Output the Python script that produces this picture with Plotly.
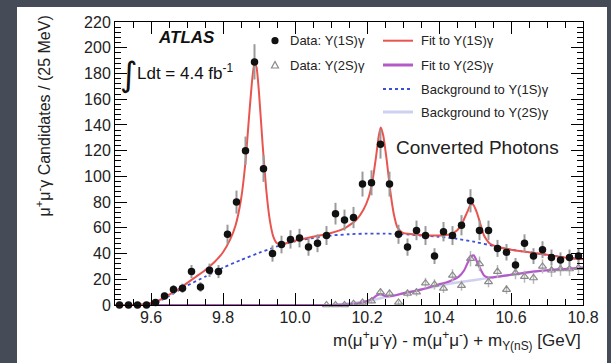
import base64
import numpy as np
import plotly.graph_objects as go

# ---------------- data ----------------
bin_centers_1s = [9.5125, 9.5375, 9.5625, 9.5875, 9.6125, 9.6375, 9.6625, 9.6875, 9.7125, 9.7375,
                  9.7625, 9.7875, 9.8125, 9.8375, 9.8625, 9.8875, 9.9125, 9.9375, 9.9625, 9.9875,
                  10.0125, 10.0375, 10.0625, 10.0875, 10.1125, 10.1375, 10.1625, 10.1875, 10.2125, 10.2375,
                  10.2625, 10.2875, 10.3125, 10.3375, 10.3625, 10.3875, 10.4125, 10.4375, 10.4625, 10.4875,
                  10.5125, 10.5375, 10.5625, 10.5875, 10.6125, 10.6375, 10.6625, 10.6875, 10.7125, 10.7375,
                  10.7625, 10.7875]
counts_1s = [0, 0, 0, 0, 2, 7, 12, 13, 26, 14,
             27, 26, 55, 80, 120, 189, 106, 40, 47, 51,
             52, 45, 48, 54, 71, 66, 68, 94, 95, 125,
             94, 55, 45, 58, 54, 38, 57, 54, 62, 81,
             58, 58, 44, 41, 31, 48, 38, 43, 37, 35,
             37, 38]

bin_centers_2s = [10.0875, 10.1125, 10.1375, 10.1625, 10.1875, 10.2125, 10.2375, 10.2625, 10.2875, 10.3125,
                  10.3375, 10.3625, 10.3875, 10.4125, 10.4375, 10.4625, 10.4875, 10.5125, 10.5375, 10.5625,
                  10.5875, 10.6125, 10.6375, 10.6625, 10.6875, 10.7125, 10.7375, 10.7625, 10.7875]
counts_2s = [0, 0, 0, 1, 2, 3, 10, 9, 2, 9,
             10, 17, 16, 13, 23, 15, 36, 32, 18, 26,
             12, 25, 22, 21, 30, 27, 28, 28, 29]

fit1s_x = [9.50, 9.55, 9.58, 9.60, 9.625, 9.65, 9.675, 9.70, 9.725, 9.75, 9.775, 9.80, 9.82, 9.835,
           9.85, 9.862, 9.872, 9.88, 9.887, 9.893, 9.90, 9.91, 9.92, 9.93, 9.94, 9.95, 9.965, 9.98,
           10.0, 10.05, 10.1, 10.14, 10.17, 10.19, 10.205, 10.215, 10.225, 10.233, 10.238, 10.245,
           10.255, 10.265, 10.275, 10.285, 10.30, 10.35, 10.40, 10.43, 10.45, 10.465, 10.478, 10.488,
           10.495, 10.505, 10.515, 10.525, 10.54, 10.56, 10.60, 10.65, 10.70, 10.75, 10.80]
fit1s_y = [0, 0, 0.5, 1.5, 4, 8, 12, 17, 22, 27, 33, 41, 51, 62,
           82, 110, 145, 172, 188, 185, 165, 125, 90, 66, 53, 48, 47, 48.5,
           50, 53, 56, 60, 66, 74, 84, 96, 115, 132, 138, 132,
           112, 88, 70, 60, 56, 54.5, 54, 55, 58, 64, 72, 78,
           78, 72, 63, 54, 48, 45.5, 43, 41, 39, 37, 35.5]

bkg1s_x = [9.60, 9.625, 9.65, 9.70, 9.75, 9.80, 9.85, 9.90, 9.95, 10.0, 10.05, 10.1, 10.15, 10.2,
           10.25, 10.3, 10.35, 10.4, 10.45, 10.5, 10.55, 10.6, 10.65, 10.7, 10.75, 10.8]
bkg1s_y = [0, 3, 7, 15, 22, 29, 35, 40.5, 45.5, 49.5, 52, 54, 55, 55.5,
           55.5, 55, 54, 53, 51.5, 49, 46, 43, 41, 39, 37, 35.5]

fit2s_x = [9.50, 10.1, 10.15, 10.18, 10.2, 10.215, 10.228, 10.238, 10.25, 10.27, 10.30, 10.35, 10.40,
           10.43, 10.455, 10.47, 10.48, 10.49, 10.497, 10.505, 10.515, 10.525, 10.535, 10.55, 10.60,
           10.65, 10.70, 10.75, 10.80]
fit2s_y = [0, 0, 0.5, 1.5, 3, 5, 7.5, 8.5, 7, 7, 9, 12, 16,
           18.5, 22, 27, 33, 38, 38.5, 34, 28, 23, 21.5, 21.5, 23.5,
           25.5, 27, 28, 29]

bkg2s_x = [10.1, 10.2, 10.25, 10.3, 10.35, 10.4, 10.45, 10.5, 10.55, 10.6, 10.65, 10.7, 10.75, 10.8]
bkg2s_y = [0, 3, 6, 9, 12, 15, 17.5, 19.5, 21.5, 23.5, 25.5, 27, 28, 29]

x_ticks = [9.6, 9.8, 10.0, 10.2, 10.4, 10.6, 10.8]
x_tick_labels = ["9.6", "9.8", "10.0", "10.2", "10.4", "10.6", "10.8"]

legend_left = ["Data: Υ(1S)γ", "Data: Υ(2S)γ"]
legend_right = ["Fit to Υ(1S)γ", "Fit to Υ(2S)γ", "Background to Υ(1S)γ", "Background to Υ(2S)γ"]

# ---------------- style ----------------
FONT = "Liberation Sans, Arial, sans-serif"
RED = "#e8554f"
PURPLE = "#b559c8"
BLUE = "#3b4fd8"
LAV = "#cfd0ef"
BG = "#454b57"

W, H = 611, 363
ML, MR, MT, MB = 115, 28, 22, 58
PW, PH = W - ML - MR, H - MT - MB


def px(x):
    return (x - ML) / PW


def py(y):
    return (H - MB - y) / PH


fig = go.Figure()

fig.add_trace(go.Scatter(x=bkg2s_x, y=bkg2s_y, mode="lines", line=dict(color=LAV, width=2.5, shape="spline", smoothing=0.6), hoverinfo="skip"))
fig.add_trace(go.Scatter(x=fit2s_x, y=fit2s_y, mode="lines", line=dict(color=PURPLE, width=2.2, shape="spline", smoothing=0.5), hoverinfo="skip"))
fig.add_trace(go.Scatter(x=bkg1s_x, y=bkg1s_y, mode="lines", line=dict(color=BLUE, width=1.8, dash="dot", shape="spline", smoothing=0.6), hoverinfo="skip"))
fig.add_trace(go.Scatter(x=fit1s_x, y=fit1s_y, mode="lines", line=dict(color=RED, width=2, shape="spline", smoothing=0.5), hoverinfo="skip"))

fig.add_trace(go.Scatter(
    x=bin_centers_2s, y=counts_2s, mode="markers",
    marker=dict(symbol="triangle-up-open", size=7, color="#8a8a8a", line=dict(width=1.2)),
    error_y=dict(type="data", array=list(np.sqrt(counts_2s)), color="#b8b8b8", thickness=1.5, width=0),
    cliponaxis=False))
fig.add_trace(go.Scatter(
    x=bin_centers_1s, y=counts_1s, mode="markers",
    marker=dict(symbol="circle", size=7.5, color="#111111"),
    error_y=dict(type="data", array=list(np.sqrt(counts_1s)), color="#9a9a9a", thickness=2, width=0),
    cliponaxis=False))

# slide background: dark page with a white panel (x 17..607, y 7..363), drawn as one full-page image
svg = (f"<svg xmlns='http://www.w3.org/2000/svg' width='{W}' height='{H}' viewBox='0 0 {W} {H}' "
       f"preserveAspectRatio='none'><rect width='{W}' height='{H}' fill='{BG}'/>"
       f"<rect x='17' y='7' width='590' height='{H}' fill='white'/></svg>")
bg_src = "data:image/svg+xml;base64," + base64.b64encode(svg.encode()).decode()
images = [dict(source=bg_src, xref="paper", yref="paper", x=px(0), y=py(0),
               sizex=W / PW, sizey=H / PH, xanchor="left", yanchor="top",
               sizing="stretch", layer="below")]

shapes = []
annotations = []

# legend left column
rows_left = [40.7, 65]
r = 3.6
shapes.append(dict(type="circle", xref="paper", yref="paper", x0=px(275 - r), x1=px(275 + r),
                   y0=py(rows_left[0] + r), y1=py(rows_left[0] - r), fillcolor="#111111", line=dict(width=0)))
tx, ty = 275, rows_left[1]
shapes.append(dict(type="path", xref="paper", yref="paper",
                   path=f"M {px(tx-3.5)} {py(ty+3)} L {px(tx+3.5)} {py(ty+3)} L {px(tx)} {py(ty-3.5)} Z",
                   line=dict(color="#8a8a8a", width=1.2)))
for txt, yy in zip(legend_left, rows_left):
    annotations.append(dict(text=txt, xref="paper", yref="paper", x=px(288), y=py(yy), xanchor="left",
                            yanchor="middle", showarrow=False, font=dict(family=FONT, size=13, color="#222")))

rows_right = [40.7, 65, 89, 112]
line_styles = [dict(color=RED, width=2), dict(color=PURPLE, width=3), dict(color=BLUE, width=1.8, dash="dot"),
               dict(color=LAV, width=3)]
for txt, yy, ls in zip(legend_right, rows_right, line_styles):
    shapes.append(dict(type="line", xref="paper", yref="paper", x0=px(383), x1=px(413), y0=py(yy), y1=py(yy), line=ls))
    annotations.append(dict(text=txt, xref="paper", yref="paper", x=px(419), y=py(yy), xanchor="left",
                            yanchor="middle", showarrow=False, font=dict(family=FONT, size=13, color="#222")))

annotations.append(dict(text="Converted Photons", xref="paper", yref="paper", x=px(394), y=py(147),
                        xanchor="left", yanchor="middle", showarrow=False,
                        font=dict(family=FONT, size=19, color="#222")))
annotations.append(dict(text="<b><i>ATLAS</i></b>", xref="paper", yref="paper", x=px(186), y=py(37),
                        xanchor="center", yanchor="middle", showarrow=False,
                        font=dict(family=FONT, size=17, color="#111")))
annotations.append(dict(text="∫", xref="paper", yref="paper", x=px(129), y=py(74),
                        xanchor="center", yanchor="middle", showarrow=False,
                        font=dict(family="DejaVu Sans", size=34, color="#111")))
annotations.append(dict(text="Ldt = 4.4 fb<sup>-1</sup>", xref="paper", yref="paper", x=px(135), y=py(72),
                        xanchor="left", yanchor="middle", showarrow=False,
                        font=dict(family=FONT, size=17, color="#111")))
annotations.append(dict(text="μ<sup>+</sup>μ<sup>-</sup>γ Candidates / (25 MeV)", xref="paper", yref="paper",
                        x=px(43), y=py(14), xanchor="center", yanchor="top", textangle=-90, showarrow=False,
                        font=dict(family=FONT, size=16, color="#222")))
annotations.append(dict(text="m(μ<sup>+</sup>μ<sup>-</sup>γ) - m(μ<sup>+</sup>μ<sup>-</sup>) + m<sub>Υ(nS)</sub> [GeV]",
                        xref="paper", yref="paper", x=px(583), y=py(340), xanchor="right", yanchor="middle",
                        showarrow=False, font=dict(family=FONT, size=17, color="#222")))

axis_common = dict(showline=True, linecolor="black", linewidth=1, mirror="ticks", ticks="inside",
                   tickcolor="black", showgrid=False, zeroline=False,
                   tickfont=dict(family=FONT, size=16, color="#222"))

fig.update_layout(
    width=W, height=H, margin=dict(l=ML, r=MR, t=MT, b=MB),
    paper_bgcolor=BG, plot_bgcolor="white", showlegend=False,
    shapes=shapes, annotations=annotations, images=images,
    xaxis=dict(range=[9.5, 10.8], tickvals=x_ticks, ticktext=x_tick_labels, ticklen=12,
               ticklabelstandoff=-2,
               minor=dict(dtick=0.05, tick0=9.5, ticks="inside", ticklen=6, tickcolor="black", showgrid=False),
               **axis_common),
    yaxis=dict(range=[0, 220], dtick=20, tick0=0, ticklen=12,
               minor=dict(dtick=4, ticks="inside", ticklen=6, tickcolor="black", showgrid=False),
               **axis_common),
)

fig.write_html("out.html")
